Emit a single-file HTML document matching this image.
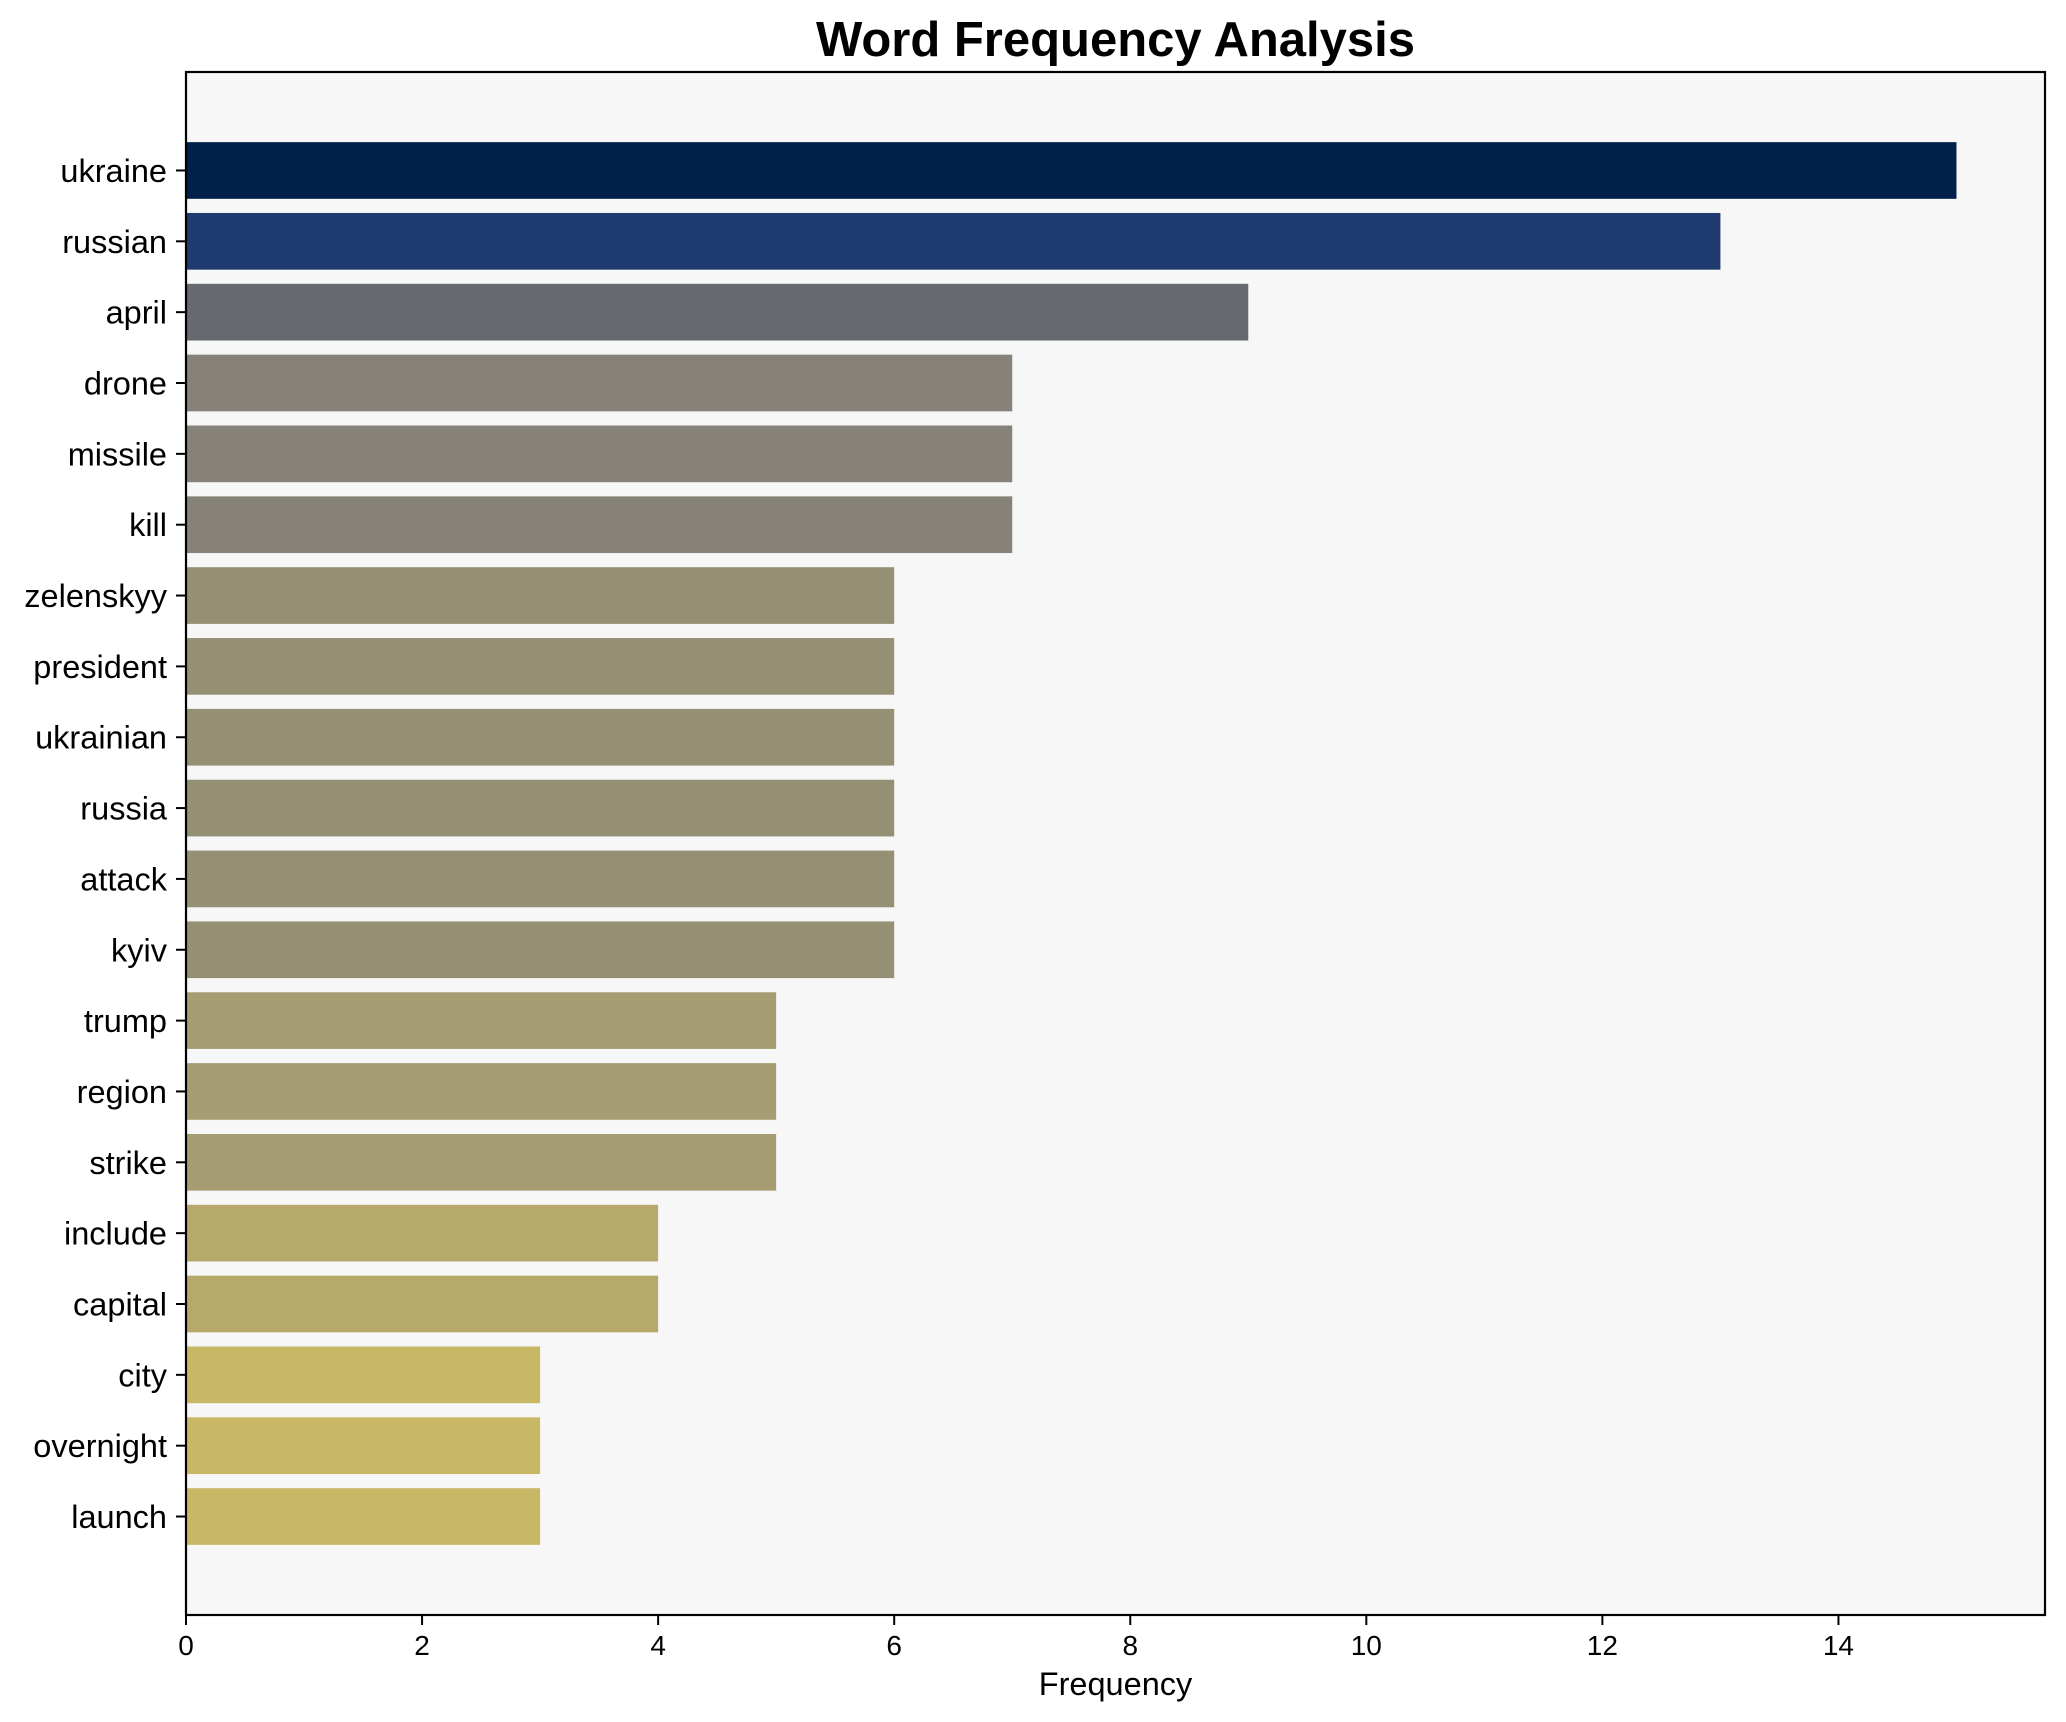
<!DOCTYPE html>
<html><head><meta charset="utf-8"><style>
html,body{margin:0;padding:0;background:#fff;}
svg{display:block;font-family:"Liberation Sans",Arial,sans-serif;}
</style></head><body>
<svg id="chart" width="2066" height="1722" viewBox="0 0 2066 1722" xmlns="http://www.w3.org/2000/svg">
<rect x="0" y="0" width="2066" height="1722" fill="#ffffff"/>
<rect x="186" y="72" width="1859" height="1543" fill="#f7f7f7"/>
<g id="bars"></g>
<g id="yticks"></g>
<g id="xticks"></g>
<rect x="186" y="72" width="1859" height="1543" fill="none" stroke="#000" stroke-width="2.2"/>
<text x="1115.5" y="56" text-anchor="middle" font-size="49" font-weight="bold" fill="#000">Word Frequency Analysis</text>
<text x="1115.5" y="1695" text-anchor="middle" font-size="32.5" fill="#000">Frequency</text>
</svg>
<script>
const words = ["ukraine","russian","april","drone","missile","kill","zelenskyy","president","ukrainian","russia","attack","kyiv","trump","region","strike","include","capital","city","overnight","launch"];
const counts = [15,13,9,7,7,7,6,6,6,6,6,6,5,5,5,4,4,3,3,3];
const xTicks = [0,2,4,6,8,10,12,14];

const NS = "http://www.w3.org/2000/svg";
const L = 186, R = 2045, T = 72, B = 1615;
const xMax = Math.max(...counts) * 1.05;
const n = words.length;
const yMin = -0.4 - 0.05 * (n - 1 + 0.8), yMax = (n - 1) + 0.4 + 0.05 * (n - 1 + 0.8);
function xs(v){ return L + (v / xMax) * (R - L); }
function ys(i){ return T + ((i - yMin) / (yMax - yMin)) * (B - T); }
const unit = (B - T) / (yMax - yMin);

const stops = [[0,[0,32,76]],[0.1667,[31,58,110]],[0.5,[102,105,112]],[0.6667,[134,130,121]],[0.75,[149,143,116]],[0.8333,[166,157,114]],[0.9167,[183,168,108]],[1,[200,184,101]]];
function colorFor(v){
  const mx = Math.max(...counts), mn = Math.min(...counts);
  const t = mx === mn ? 0 : (mx - v) / (mx - mn);
  for (let k = 0; k < stops.length - 1; k++) {
    const a = stops[k], b = stops[k+1];
    if (t <= b[0]) {
      const f = (t - a[0]) / (b[0] - a[0]);
      const c = a[1].map((x, j) => Math.round(x + (b[1][j] - x) * f));
      return "rgb(" + c.join(",") + ")";
    }
  }
  return "rgb(200,184,101)";
}

const gb = document.getElementById("bars");
const gy = document.getElementById("yticks");
const gx = document.getElementById("xticks");
words.forEach((w, i) => {
  const cy = ys(i), h = 0.8 * unit;
  const r = document.createElementNS(NS, "rect");
  r.setAttribute("x", L);
  r.setAttribute("y", cy - h / 2);
  r.setAttribute("width", xs(counts[i]) - L);
  r.setAttribute("height", h);
  r.setAttribute("fill", colorFor(counts[i]));
  
  
  gb.appendChild(r);
  const tk = document.createElementNS(NS, "line");
  tk.setAttribute("x1", L - 10); tk.setAttribute("x2", L);
  tk.setAttribute("y1", cy); tk.setAttribute("y2", cy);
  tk.setAttribute("stroke", "#000"); tk.setAttribute("stroke-width", "2");
  
  
  gy.appendChild(tk);
  const t = document.createElementNS(NS, "text");
  t.setAttribute("x", L - 19);
  t.setAttribute("y", cy + 11.5);
  t.setAttribute("text-anchor", "end");
  t.setAttribute("font-size", "32.5");
  t.textContent = w;
  
  
  gy.appendChild(t);
});
xTicks.forEach(v => {
  const x = xs(v);
  const tk = document.createElementNS(NS, "line");
  tk.setAttribute("x1", x); tk.setAttribute("x2", x);
  tk.setAttribute("y1", B); tk.setAttribute("y2", B + 10);
  tk.setAttribute("stroke", "#000"); tk.setAttribute("stroke-width", "2");
  
  
  gx.appendChild(tk);
  const t = document.createElementNS(NS, "text");
  t.setAttribute("x", x);
  t.setAttribute("y", B + 40);
  t.setAttribute("text-anchor", "middle");
  t.setAttribute("font-size", "28");
  t.textContent = String(v);
  
  
  gx.appendChild(t);
});
</script>
</body></html>
